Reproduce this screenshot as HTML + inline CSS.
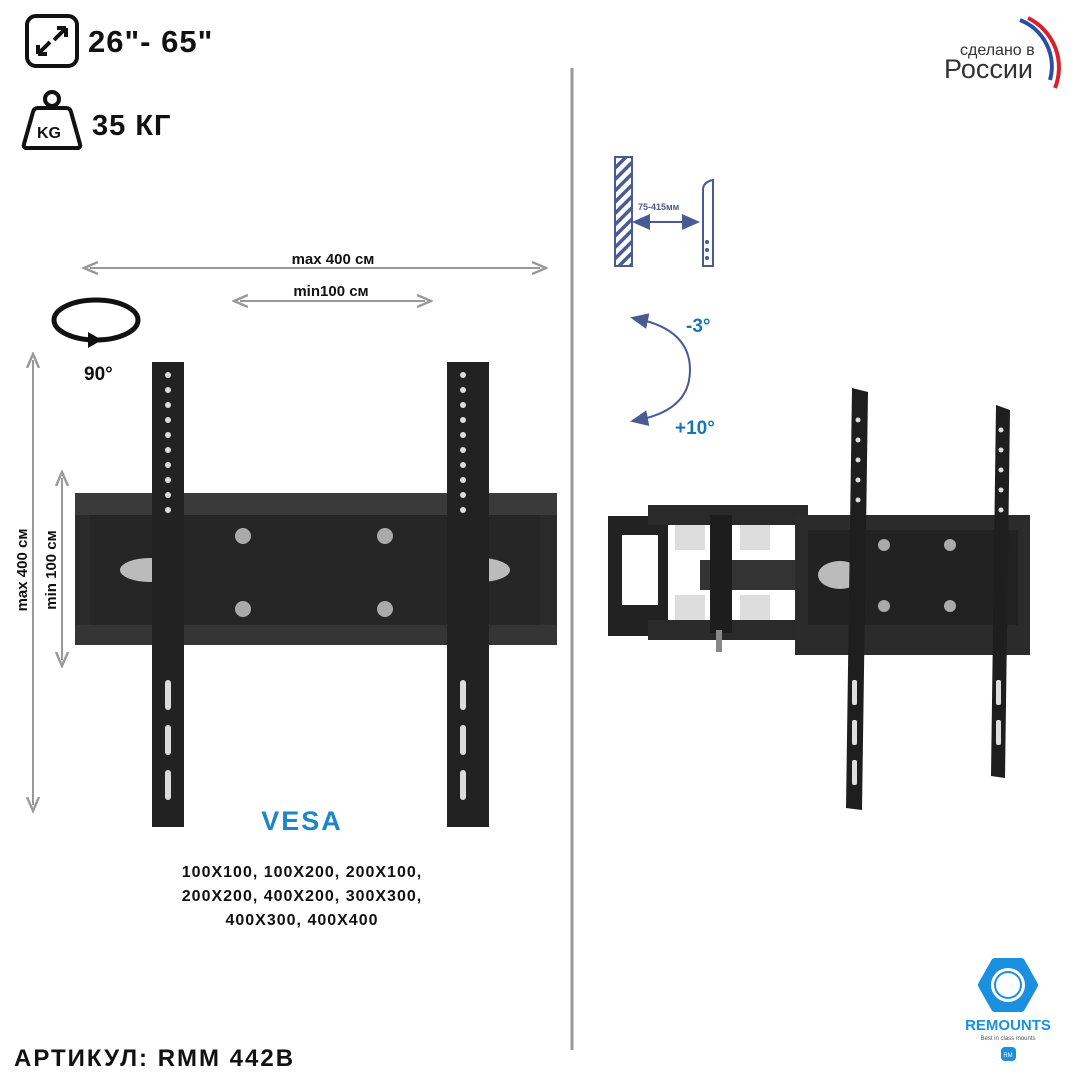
<!DOCTYPE html>
<html><head><meta charset="utf-8"><style>
body{margin:0;width:1080px;height:1080px;background:#fff;overflow:hidden;font-family:"Liberation Sans",sans-serif}
svg{position:absolute;left:0;top:0}
</style></head><body>
<svg width="1080" height="1080" viewBox="0 0 1080 1080" xmlns="http://www.w3.org/2000/svg">
<defs>
<marker id="ag" markerWidth="8" markerHeight="8" refX="4" refY="4" orient="auto-start-reverse"><path d="M0,1 L7,4 L0,7" fill="none" stroke="#999" stroke-width="1.2"/></marker>
<marker id="ab" markerWidth="10" markerHeight="10" refX="5" refY="5" orient="auto-start-reverse"><path d="M0,1 L9,5 L0,9 Z" fill="#4a5a95"/></marker>
<pattern id="h" width="8" height="8" patternUnits="userSpaceOnUse" patternTransform="rotate(45)"><rect width="8" height="8" fill="#fff"/><rect width="3.5" height="8" fill="#4a5a95"/></pattern>
</defs>
<line x1="572" y1="68" x2="572" y2="1050" stroke="#999" stroke-width="3"/>
<rect x="27" y="16" width="50" height="50" rx="9" fill="none" stroke="#111" stroke-width="4"/>
<path d="M38,54 L50,42 M38,54 v-9 M38,54 h9 M66,28 L54,40 M66,28 v9 M66,28 h-9" stroke="#111" stroke-width="4" fill="none"/>
<text x="88" y="52" font-size="31" font-weight="bold" fill="#111" letter-spacing="1">26"- 65"</text>
<circle cx="52" cy="99" r="7" fill="none" stroke="#111" stroke-width="4"/>
<path d="M38,108 h28 q4,0 5,4 l9,32 q1,4 -3,4 h-50 q-4,0 -3,-4 l9,-32 q1,-4 5,-4 Z" fill="none" stroke="#111" stroke-width="4" stroke-linejoin="round"/>
<text x="37" y="138" font-size="16" font-weight="bold" fill="#111">KG</text>
<text x="92" y="135" font-size="29" font-weight="bold" fill="#111" letter-spacing="1">35 КГ</text>
<line x1="90" y1="268" x2="540" y2="268" stroke="#999" stroke-width="2" marker-start="url(#ag)" marker-end="url(#ag)"/>
<text x="333" y="264" font-size="15" font-weight="bold" text-anchor="middle" fill="#111">max 400 см</text>
<line x1="240" y1="301" x2="425" y2="301" stroke="#999" stroke-width="2" marker-start="url(#ag)" marker-end="url(#ag)"/>
<text x="331" y="296" font-size="15" font-weight="bold" text-anchor="middle" fill="#111">min100 см</text>
<line x1="33" y1="360" x2="33" y2="805" stroke="#999" stroke-width="2" marker-start="url(#ag)" marker-end="url(#ag)"/>
<text transform="translate(27,570) rotate(-90)" font-size="15" font-weight="bold" text-anchor="middle" fill="#111">max 400 см</text>
<line x1="62" y1="478" x2="62" y2="660" stroke="#999" stroke-width="2" marker-start="url(#ag)" marker-end="url(#ag)"/>
<text transform="translate(56,570) rotate(-90)" font-size="15" font-weight="bold" text-anchor="middle" fill="#111">min 100 см</text>
<ellipse cx="96" cy="320" rx="42" ry="20" fill="none" stroke="#111" stroke-width="5"/>
<path d="M88,332 l14,8 l-14,8 Z" fill="#111"/>
<text x="84" y="380" font-size="19" font-weight="bold" fill="#111">90°</text>
<rect x="75" y="493" width="482" height="152" fill="#2b2b2b"/>
<rect x="75" y="493" width="482" height="22" fill="#3a3a3a"/>
<rect x="75" y="625" width="482" height="20" fill="#353535"/>
<rect x="90" y="515" width="450" height="110" fill="#262626"/>
<ellipse cx="150" cy="570" rx="30" ry="12" fill="#bbb"/><ellipse cx="480" cy="570" rx="30" ry="12" fill="#bbb"/>
<circle cx="243" cy="536" r="8" fill="#aaa"/><circle cx="385" cy="536" r="8" fill="#aaa"/>
<circle cx="243" cy="609" r="8" fill="#aaa"/><circle cx="385" cy="609" r="8" fill="#aaa"/>
<rect x="152" y="362" width="32" height="465" fill="#222"/>
<rect x="447" y="362" width="42" height="465" fill="#222"/>
<g fill="#ddd">
<circle cx="168" cy="375" r="3"/><circle cx="168" cy="390" r="3"/><circle cx="168" cy="405" r="3"/><circle cx="168" cy="420" r="3"/><circle cx="168" cy="435" r="3"/><circle cx="168" cy="450" r="3"/><circle cx="168" cy="465" r="3"/><circle cx="168" cy="480" r="3"/><circle cx="168" cy="495" r="3"/><circle cx="168" cy="510" r="3"/>
<circle cx="463" cy="375" r="3"/><circle cx="463" cy="390" r="3"/><circle cx="463" cy="405" r="3"/><circle cx="463" cy="420" r="3"/><circle cx="463" cy="435" r="3"/><circle cx="463" cy="450" r="3"/><circle cx="463" cy="465" r="3"/><circle cx="463" cy="480" r="3"/><circle cx="463" cy="495" r="3"/><circle cx="463" cy="510" r="3"/>
<rect x="165" y="680" width="6" height="30" rx="3"/><rect x="165" y="725" width="6" height="30" rx="3"/><rect x="165" y="770" width="6" height="30" rx="3"/>
<rect x="460" y="680" width="6" height="30" rx="3"/><rect x="460" y="725" width="6" height="30" rx="3"/><rect x="460" y="770" width="6" height="30" rx="3"/>
</g>
<text x="302" y="830" font-size="27" font-weight="bold" text-anchor="middle" fill="#1b86c9" letter-spacing="2">VESA</text>
<g font-size="16" font-weight="bold" text-anchor="middle" fill="#111" letter-spacing="1">
<text x="302" y="877">100X100, 100X200, 200X100,</text>
<text x="302" y="901">200X200, 400X200, 300X300,</text>
<text x="302" y="925">400X300, 400X400</text>
</g>
<text x="14" y="1066" font-size="24" font-weight="bold" fill="#111" letter-spacing="2">АРТИКУЛ: RMM 442B</text>
<path d="M1020,20 A50,50 0 0 1 1050,80" fill="none" stroke="#2b4fa8" stroke-width="4"/>
<path d="M1028,18 A55,55 0 0 1 1055,88" fill="none" stroke="#d8222a" stroke-width="4"/>
<text x="960" y="55" font-size="16" fill="#333">сделано в</text>
<text x="944" y="78" font-size="27" fill="#333">России</text>
<rect x="615" y="157" width="17" height="109" fill="url(#h)" stroke="#4a5a95" stroke-width="2"/>
<path d="M703,266 V190 Q703,182 713,180 V266 Z" fill="#fff" stroke="#4a5a95" stroke-width="2"/>
<circle cx="707" cy="242" r="2" fill="#4a5a95"/><circle cx="707" cy="250" r="2" fill="#4a5a95"/><circle cx="707" cy="258" r="2" fill="#4a5a95"/>
<text x="638" y="210" font-size="9" font-weight="bold" fill="#4a5a95">75-415мм</text>
<line x1="640" y1="222" x2="692" y2="222" stroke="#4a5a95" stroke-width="2" marker-start="url(#ab)" marker-end="url(#ab)"/>
<path d="M638,319 Q690,330 690,370 Q690,410 638,420" fill="none" stroke="#4a5a95" stroke-width="2" marker-start="url(#ab)" marker-end="url(#ab)"/>
<text x="686" y="332" font-size="19" font-weight="bold" fill="#1b75b5">-3°</text>
<text x="675" y="434" font-size="19" font-weight="bold" fill="#1b75b5">+10°</text>
<rect x="608" y="516" width="60" height="120" fill="#222"/>
<rect x="622" y="535" width="36" height="70" fill="#fff"/>
<rect x="648" y="505" width="160" height="20" fill="#2a2a2a"/>
<rect x="648" y="620" width="160" height="20" fill="#2a2a2a"/>
<rect x="700" y="560" width="110" height="30" fill="#333"/>
<rect x="710" y="515" width="22" height="118" fill="#1d1d1d"/>
<rect x="675" y="525" width="30" height="25" fill="#ddd"/><rect x="675" y="595" width="30" height="25" fill="#ddd"/>
<rect x="740" y="525" width="30" height="25" fill="#ddd"/><rect x="740" y="595" width="30" height="25" fill="#ddd"/>
<rect x="716" y="630" width="6" height="22" fill="#888"/>
<rect x="795" y="515" width="235" height="140" fill="#2b2b2b"/>
<rect x="808" y="530" width="210" height="95" fill="#222"/>
<ellipse cx="840" cy="575" rx="22" ry="14" fill="#bbb"/>
<circle cx="884" cy="545" r="6" fill="#aaa"/><circle cx="950" cy="545" r="6" fill="#aaa"/><circle cx="884" cy="606" r="6" fill="#aaa"/><circle cx="950" cy="606" r="6" fill="#aaa"/>
<polygon points="852,388 868,392 862,810 846,808" fill="#1e1e1e"/>
<polygon points="996,405 1010,410 1005,778 991,776" fill="#1e1e1e"/>
<g fill="#ddd">
<circle cx="858" cy="420" r="2.5"/><circle cx="858" cy="440" r="2.5"/><circle cx="858" cy="460" r="2.5"/><circle cx="858" cy="480" r="2.5"/><circle cx="858" cy="500" r="2.5"/>
<circle cx="1001" cy="430" r="2.5"/><circle cx="1001" cy="450" r="2.5"/><circle cx="1001" cy="470" r="2.5"/><circle cx="1001" cy="490" r="2.5"/><circle cx="1001" cy="510" r="2.5"/>
<rect x="852" y="680" width="5" height="25" rx="2"/><rect x="852" y="720" width="5" height="25" rx="2"/><rect x="852" y="760" width="5" height="25" rx="2"/>
<rect x="996" y="680" width="5" height="25" rx="2"/><rect x="996" y="720" width="5" height="25" rx="2"/>
</g>
<polygon points="995,962 1021,962 1034,985 1021,1008 995,1008 982,985" fill="#1b8fe0" stroke="#1b8fe0" stroke-width="8" stroke-linejoin="round"/>
<circle cx="1008" cy="985" r="17" fill="#fff"/>
<circle cx="1008" cy="985" r="14" fill="#1b8fe0"/>
<circle cx="1008" cy="985" r="12" fill="#fff"/>
<text x="1008" y="1030" font-size="15" font-weight="bold" text-anchor="middle" fill="#1b8fe0">REMOUNTS</text>
<text x="1008" y="1040" font-size="6" text-anchor="middle" fill="#555">Best in class mounts</text>
<rect x="1001" y="1047" width="15" height="14" rx="4" fill="#1b8fe0"/>
<text x="1008" y="1057" font-size="6" text-anchor="middle" fill="#fff">RM</text>
</svg>
</body></html>
